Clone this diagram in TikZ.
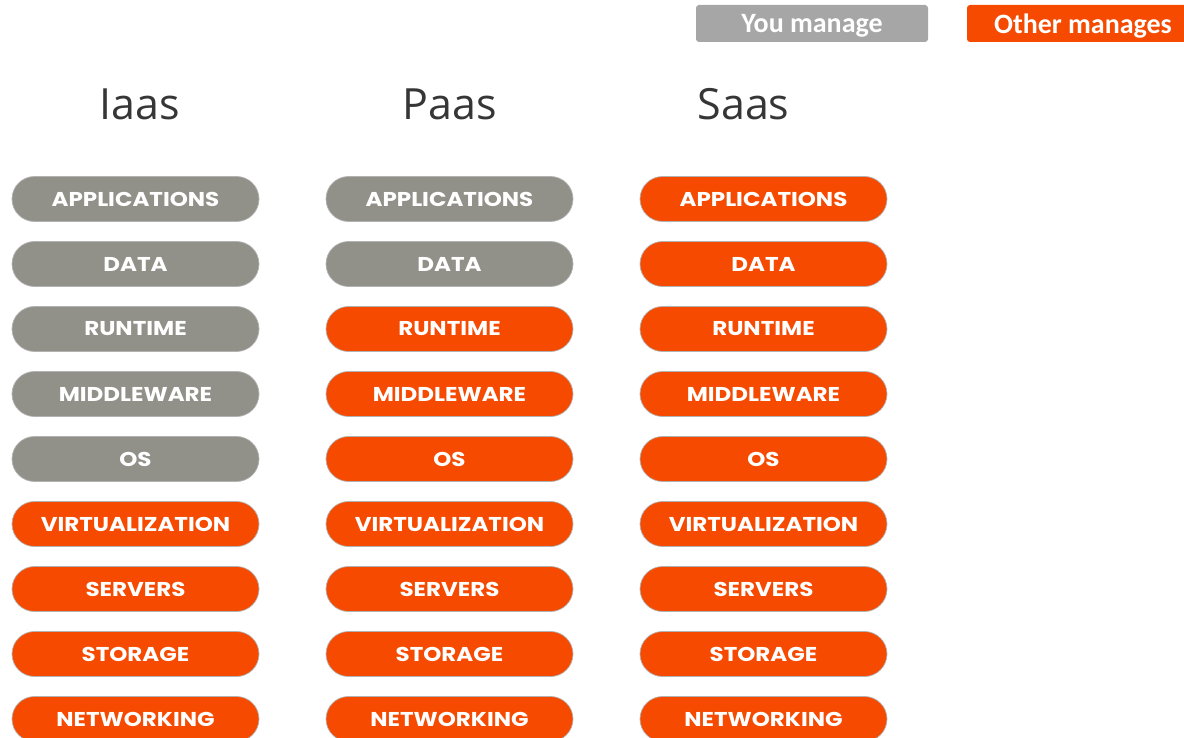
\documentclass[tikz,border=0pt]{standalone}
\usepackage{fontspec}
\setmainfont{Open Sans}
\newfontfamily\pillfont[FakeStretch=1.15]{Poppins}
\newfontfamily\legendfont{Carlito}
\definecolor{yougrey}{HTML}{91918A}
\definecolor{keygrey}{HTML}{A6A6A6}
\definecolor{otherorange}{HTML}{F54A00}
\definecolor{headgrey}{HTML}{363636}
\tikzset{
	pill/.style={rectangle, rounded corners=22.5pt, minimum width=247pt, minimum height=45pt, inner sep=0pt, draw=black!30, line width=0.7pt, text=white, font=\pillfont\bfseries\fontsize{20}{20}\selectfont},
	you/.style={pill, fill=yougrey},
	other/.style={pill, fill=otherorange},
	keybox/.style={rectangle, rounded corners=3pt, minimum width=232pt, minimum height=37pt, inner sep=0pt, text depth=0pt, text=white, font=\legendfont\bfseries\fontsize{28}{28}\selectfont},
	head/.style={anchor=base, text=headgrey, font=\fontsize{43}{43}\selectfont}
}

\begin{document}
\begin{tikzpicture}[x=1pt, y=-1pt]
			%%%%% START %%%%%
			
			\useasboundingbox (0, 0) rectangle (1184, 738);
			
			\node[keybox, fill=keygrey] (youkey) at (812, 23.5) {You manage};
			\node[keybox, fill=otherorange] (otherkey) at (1083, 23.5) {Other manages};
			
			\node[head] (iaas) at (140, 120) {Iaas};
			\node[head] (paas) at (449.5, 120) {Paas};
			\node[head] (saas) at (743.5, 120) {Saas};
			
			\node[you] (iaasapp) at (135.5, 199) {APPLICATIONS};
			\node[you] (iaasdata) at (135.5, 264) {DATA};
			\node[you] (iaasrun) at (135.5, 329) {RUNTIME};
			\node[you] (iaasmid) at (135.5, 394) {MIDDLEWARE};
			\node[you] (iaasos) at (135.5, 459) {OS};
			\node[other] (iaasvirt) at (135.5, 524) {VIRTUALIZATION};
			\node[other] (iaasserv) at (135.5, 589) {SERVERS};
			\node[other] (iaasstor) at (135.5, 654) {STORAGE};
			\node[other] (iaasnet) at (135.5, 719) {NETWORKING};
			
			\node[you] (paasapp) at (449.5, 199) {APPLICATIONS};
			\node[you] (paasdata) at (449.5, 264) {DATA};
			\node[other] (paasrun) at (449.5, 329) {RUNTIME};
			\node[other] (paasmid) at (449.5, 394) {MIDDLEWARE};
			\node[other] (paasos) at (449.5, 459) {OS};
			\node[other] (paasvirt) at (449.5, 524) {VIRTUALIZATION};
			\node[other] (paasserv) at (449.5, 589) {SERVERS};
			\node[other] (paasstor) at (449.5, 654) {STORAGE};
			\node[other] (paasnet) at (449.5, 719) {NETWORKING};
			
			\node[other] (saasapp) at (763.5, 199) {APPLICATIONS};
			\node[other] (saasdata) at (763.5, 264) {DATA};
			\node[other] (saasrun) at (763.5, 329) {RUNTIME};
			\node[other] (saasmid) at (763.5, 394) {MIDDLEWARE};
			\node[other] (saasos) at (763.5, 459) {OS};
			\node[other] (saasvirt) at (763.5, 524) {VIRTUALIZATION};
			\node[other] (saasserv) at (763.5, 589) {SERVERS};
			\node[other] (saasstor) at (763.5, 654) {STORAGE};
			\node[other] (saasnet) at (763.5, 719) {NETWORKING};
			
			%%%%% END %%%%%
\end{tikzpicture}
\end{document}
